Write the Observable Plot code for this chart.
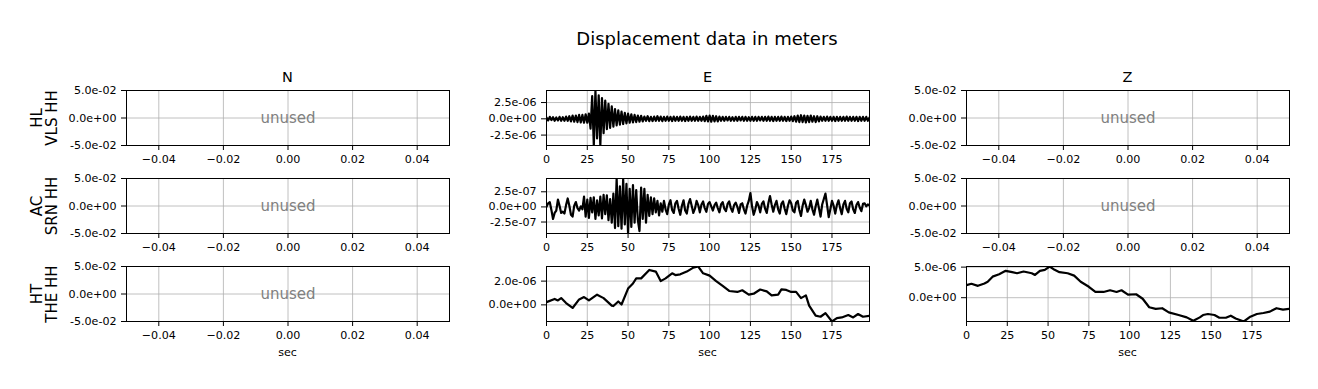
<!DOCTYPE html>
<html>
<head>
<meta charset="utf-8">
<script src="https://cdn.jsdelivr.net/npm/d3@7"></script>
<script src="https://cdn.jsdelivr.net/npm/@observablehq/plot@0.6"></script>
<style>
  body { margin: 0; background: white; }
  #fig { position: relative; width: 1318px; height: 389px; background: white; font-family: "DejaVu Sans", sans-serif; color: black; overflow: hidden; }
  .lbl { position: absolute; transform: translate(-50%, -50%); white-space: pre; text-align: center; }
  .rowlbl { position: absolute; transform: translate(-50%, -50%) rotate(-90deg); white-space: pre; text-align: center; font-size: 15px; line-height: 15px; }
  .plot { position: absolute; }
</style>
</head>
<body>
<div id="fig"></div>
<script>
// ---------- text ----------
const figTitle = "Displacement data in meters";
const components = ["N", "E", "Z"];
const rowLabels = ["HL\nVLS HH", "AC\nSRN HH", "HT\nTHE HH"];
const unusedText = "unused";
const xLabel = "sec";

// ---------- ticks / domains ----------
const unusedDomain = [-0.05, 0.05];
const unusedXTicks = [-0.04, -0.02, 0, 0.02, 0.04];
const unusedYTicks = [-0.05, 0, 0.05];
const timeDomain = [0, 198];
const timeTicks = [0, 25, 50, 75, 100, 125, 150, 175];
const e1YTicks = [-2.5e-6, 0, 2.5e-6];
const e2YTicks = [-2.5e-7, 0, 2.5e-7];
const e3YTicks = [0, 2e-6];
const z3YTicks = [0, 5e-6];

// ---------- data ----------
// HL VLS HH E, 1 sample / s, units 1e-6 m
const e1Values = [
  0.2,-0.25,0.3,-0.2,0.25,-0.3,0.2,-0.25,0.3,-0.3,
  0.25,-0.3,0.35,-0.3,0.4,-0.4,0.5,-0.45,0.5,-0.5,
  0.6,-0.55,0.6,-0.6,0.7,-0.6,0.8,-1.5,3.5,-4.1,
  4.35,-3.0,3.6,-4.1,3.2,-2.2,2.8,-1.6,2.3,-1.4,
  1.9,-1.2,1.5,-1.0,1.3,-0.9,1.1,-0.8,0.9,-0.7,
  0.8,-0.6,0.7,-0.55,0.6,-0.5,0.5,-0.45,0.45,-0.4,
  0.35,-0.3,0.4,-0.35,0.3,-0.35,0.35,-0.3,0.4,-0.3,
  0.35,-0.35,0.3,-0.3,0.35,-0.3,0.3,-0.35,0.35,-0.3,
  0.3,-0.3,0.35,-0.3,0.3,-0.35,0.3,-0.3,0.35,-0.3,
  0.3,-0.3,0.35,-0.3,0.3,-0.3,0.35,-0.35,0.45,-0.4,
  0.5,-0.45,0.45,-0.4,0.4,-0.4,0.35,-0.3,0.3,-0.3,
  0.3,-0.25,0.3,-0.3,0.25,-0.3,0.3,-0.3,0.3,-0.25,
  0.3,-0.3,0.3,-0.3,0.25,-0.3,0.3,-0.3,0.3,-0.3,
  0.3,-0.25,0.3,-0.3,0.3,-0.3,0.35,-0.3,0.3,-0.35,
  0.3,-0.3,0.3,-0.3,0.35,-0.3,0.3,-0.35,0.3,-0.3,
  0.35,-0.35,0.4,-0.45,0.5,-0.5,0.55,-0.5,0.5,-0.55,
  0.45,-0.5,0.5,-0.45,0.4,-0.5,0.4,-0.4,0.35,-0.3,
  0.3,-0.3,0.35,-0.3,0.3,-0.3,0.3,-0.35,0.3,-0.3,
  0.3,-0.3,0.3,-0.3,0.35,-0.3,0.3,-0.3,0.3,-0.3,
  0.3,-0.35,0.3,-0.3,0.3,-0.3,0.3,-0.3,0.2
];
// AC SRN HH E, 1 sample / s, units 1e-7 m
const e2Values = [
  0.0,0.6,0.8,-0.5,-2.0,-1.0,-0.6,1.2,0.2,-1.0,
  -0.8,-1.1,0.3,1.4,0.2,-1.3,-1.6,0.2,0.8,-0.2,
  -0.6,0.1,-0.4,1.7,-1.6,1.2,-1.8,1.5,-0.9,1.6,
  -2.0,1.1,-1.4,1.7,-1.9,2.0,-1.2,1.9,-2.2,1.3,
  -2.6,2.2,-3.5,4.7,-3.2,3.4,-3.6,4.6,-2.9,3.8,
  -4.4,3.0,-3.3,3.6,-2.6,2.8,-2.2,-4.0,3.2,-2.0,
  3.0,-2.6,2.0,-1.5,1.6,-1.2,1.4,-0.9,1.0,-1.4,
  0.6,-0.8,1.0,-0.4,-1.2,0.4,1.1,-0.5,-1.0,0.6,
  1.0,-0.3,-1.3,0.2,1.1,-0.6,-1.1,0.5,1.3,0.2,
  -1.0,-0.3,1.0,0.3,-0.9,0.4,0.9,-0.2,-0.8,0.5,
  0.8,0.1,-0.6,0.3,0.7,-0.2,-0.9,0.4,0.8,-0.3,
  -0.7,0.5,0.9,-0.2,-0.8,0.3,0.7,0.0,-1.0,0.4,
  0.6,-0.4,-1.1,0.2,1.0,2.3,0.1,-1.3,-0.4,0.8,
  0.2,-0.9,0.5,0.9,-0.3,-1.0,0.6,1.8,0.4,-0.8,
  0.3,1.0,-0.4,-1.1,0.5,0.9,-0.3,-1.2,0.2,1.1,
  0.6,-0.6,-0.9,0.7,1.0,-0.5,-1.5,0.2,1.2,0.3,
  -0.8,-0.2,1.0,-0.4,-1.3,0.1,1.2,-0.2,-1.6,0.4,
  1.3,2.2,0.3,-1.7,-0.4,1.0,0.2,-1.1,0.3,1.1,
  -0.2,-1.2,0.4,1.0,-0.3,-0.9,0.6,0.9,-0.4,-1.0,
  0.3,0.8,-0.1,-0.7,0.5,0.6,0.1,0.4,0.2
];
// HT THE HH E, units 1e-6 m
const e3Time = [0,5,7,9,12,16,20,23,26,31,35,40,41,44,46,50,53,55,58,63,67,70,73,77,79,82,86,90,93,96,100,104,108,112,117,120,124,127,131,135,138,142,144,147,150,153,156,159,161,165,168,171,175,178,181,185,188,191,194,198];
const e3Values = [0.23,0.5,0.37,0.57,0.15,-0.26,0.46,0.66,0.37,0.86,0.57,-0.06,-0.1,0.29,0.03,1.37,1.8,2.23,2.23,2.94,2.8,2.0,2.23,2.66,2.51,2.57,2.8,3.14,3.23,2.66,2.46,2.0,1.6,1.17,1.09,1.23,0.86,0.94,1.29,1.14,0.8,0.86,1.31,1.26,1.09,1.09,0.57,0.8,-0.06,-0.91,-1.0,-0.69,-1.4,-1.11,-1.06,-0.86,-1.06,-0.77,-1.0,-0.91];
// HT THE HH Z, units 1e-6 m
const z3Time = [0,3,7,11,13,16,20,24,28,31,35,40,42,45,48,51,54,57,62,66,70,75,79,84,88,92,95,99,104,108,112,116,120,124,130,135,139,143,145,148,152,155,159,162,165,170,174,178,182,186,190,194,198];
const z3Values = [2.06,2.28,1.94,2.33,2.6,3.44,3.83,4.39,4.17,4.0,4.28,4.0,3.72,4.39,4.56,5.1,4.56,4.17,4.0,3.61,2.6,1.78,0.94,0.94,1.22,0.94,1.22,0.5,0.56,-0.17,-1.56,-1.83,-1.72,-2.39,-2.83,-3.22,-3.78,-3.22,-2.83,-2.67,-2.83,-3.28,-3.28,-2.94,-3.39,-3.89,-3.11,-2.67,-2.5,-2.28,-1.72,-1.94,-1.83];

// ---------- helpers ----------
function sci(v) {
  const [m, e] = v.toExponential(1).split("e");
  const sign = e[0] === "-" ? "-" : "+";
  const digits = e.replace(/^[+-]/, "").padStart(2, "0");
  return m + "e" + sign + digits;
}
const fig = document.getElementById("fig");

const colLeft = [126, 546, 966];
const rowTop = [90, 178, 266];
const innerW = 323, innerH = 55;
const mL = 90, mR = 10, mT = 5, mB = 40;

function addText(txt, x, y, size, cls = "lbl") {
  const d = document.createElement("div");
  d.className = cls;
  d.textContent = txt;
  d.style.left = x + "px";
  d.style.top = y + "px";
  d.style.fontSize = size + "px";
  fig.appendChild(d);
}

function panel(opts) {
  const {xDomain, xTicks, xFmt, yDomain, yTicks, series, unused} = opts;
  const marks = [
    Plot.gridX(xTicks, {stroke: "#b0b0b0", strokeOpacity: 1, strokeWidth: 0.8}),
    Plot.gridY(yTicks, {stroke: "#b0b0b0", strokeOpacity: 1, strokeWidth: 0.8})
  ];
  if (unused) {
    marks.push(Plot.text([unusedText], {frameAnchor: "middle", text: d => d, fill: "gray", fontSize: 15}));
  } else {
    marks.push(Plot.line(series, {x: "t", y: "v", stroke: "black", strokeWidth: 2.2, clip: true}));
  }
  marks.push(
    Plot.axisX({ticks: xTicks, tickFormat: xFmt, tickSize: 5, tickPadding: 5, label: null, fontSize: 11.1}),
    Plot.axisY({ticks: yTicks, tickFormat: sci, tickSize: 5, tickPadding: 5, label: null, fontSize: 11.1}),
    Plot.frame({stroke: "black", strokeWidth: 1})
  );
  return Plot.plot({
    width: innerW + mL + mR,
    height: innerH + mT + mB,
    marginLeft: mL, marginRight: mR, marginTop: mT, marginBottom: mB,
    x: {domain: xDomain},
    y: {domain: yDomain},
    style: {fontFamily: "DejaVu Sans", fontSize: "11.1px", color: "black", background: "transparent", overflow: "visible"},
    marks
  });
}

const unusedFmt = d3.format(".2f");
const timeFmt = d3.format("d");

function seriesFrom(times, values, unit) {
  return values.map((v, i) => ({t: times ? times[i] : i, v: v * unit}));
}

const e1 = seriesFrom(null, e1Values, 1e-6);
const e2 = seriesFrom(null, e2Values, 1e-7);
const e3 = seriesFrom(e3Time, e3Values, 1e-6);
const z3 = seriesFrom(z3Time, z3Values, 1e-6);

const grid = [
  [null, {s: e1, ticks: e1YTicks}, null],
  [null, {s: e2, ticks: e2YTicks}, null],
  [null, {s: e3, ticks: e3YTicks}, {s: z3, ticks: z3YTicks}]
];

for (let r = 0; r < 3; r++) {
  for (let c = 0; c < 3; c++) {
    const cell = grid[r][c];
    let p;
    if (!cell) {
      p = panel({xDomain: unusedDomain, xTicks: unusedXTicks, xFmt: unusedFmt, yDomain: unusedDomain, yTicks: unusedYTicks, unused: true});
    } else {
      p = panel({xDomain: timeDomain, xTicks: timeTicks, xFmt: timeFmt, yDomain: d3.extent(cell.s, d => d.v), yTicks: cell.ticks, series: cell.s});
    }
    p.classList.add("plot");
    p.style.left = (colLeft[c] - mL) + "px";
    p.style.top = (rowTop[r] - mT) + "px";
    fig.appendChild(p);
  }
}

// titles and labels
addText(figTitle, 707, 38, 18);
components.forEach((t, c) => addText(t, colLeft[c] + innerW / 2, 77, 14.5));
rowLabels.forEach((t, r) => addText(t, 45, rowTop[r] + innerH / 2, 15, "rowlbl"));
components.forEach((t, c) => addText(xLabel, colLeft[c] + innerW / 2, 352, 11.1));
</script>
</body>
</html>
